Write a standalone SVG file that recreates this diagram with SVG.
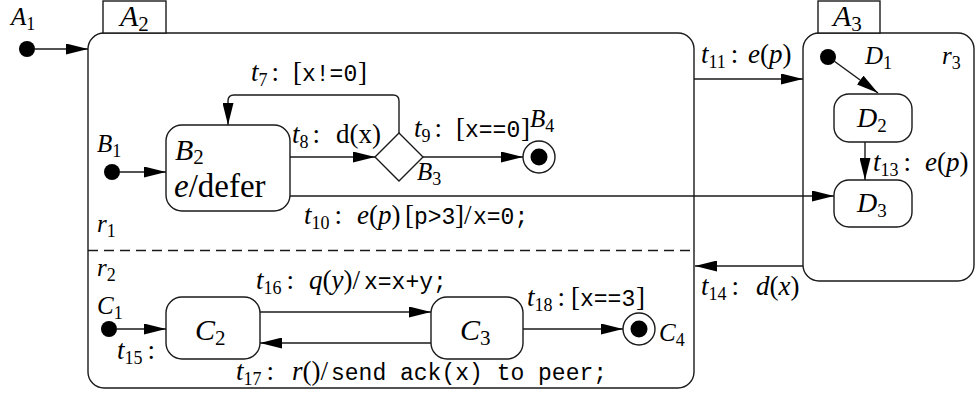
<svg xmlns="http://www.w3.org/2000/svg" width="978" height="399" viewBox="0 0 978 399">
<style>
.box{fill:none;stroke:#1a1a1a;stroke-width:1.4}
.tab{fill:#fff;stroke:#1a1a1a;stroke-width:1.4}
.edge{fill:none;stroke:#1a1a1a;stroke-width:1.4}
.dot{fill:#000}
.lbl{font-family:"Liberation Serif",serif;font-size:27px;fill:#000}
.nl{font-family:"Liberation Serif",serif;font-size:25px;fill:#000}
.big{font-family:"Liberation Serif",serif;font-size:30px;fill:#000}
.it{font-style:italic}
.tt{font-family:"Liberation Mono",monospace;font-size:23px}
.sub{font-size:18px;font-style:normal}
.sbig{font-size:21px;font-style:normal}
</style>
<defs>
<marker id="ah" markerUnits="userSpaceOnUse" markerWidth="22" markerHeight="11" refX="22" refY="5.5" orient="auto">
<path d="M0,0 L22,5.5 L0,11 z" fill="#000"/>
</marker>
</defs>

<g id="A1">
<circle class="dot" cx="27" cy="49" r="8"/>
<text class="nl" x="11" y="25"><tspan class="it">A</tspan><tspan class="sub" dy="5">1</tspan></text>
</g>

<g id="A2">
<rect class="box" x="88" y="33" width="606" height="355" rx="16"/>
<rect class="tab" x="103" y="1" width="63" height="32"/>
<text class="big" x="120" y="26"><tspan class="it">A</tspan><tspan class="sbig" dy="5">2</tspan></text>
<line class="edge" x1="88" y1="250.5" x2="694" y2="250.5" stroke-dasharray="10,6"/>
<text class="nl" x="97" y="232"><tspan class="it">r</tspan><tspan class="sub" dy="5">1</tspan></text>
<text class="nl" x="97" y="276"><tspan class="it">r</tspan><tspan class="sub" dy="5">2</tspan></text>
</g>

<g id="A3">
<rect class="box" x="803" y="33" width="171" height="248" rx="16"/>
<rect class="tab" x="818" y="1" width="62" height="32"/>
<text class="big" x="833" y="26"><tspan class="it">A</tspan><tspan class="sbig" dy="5">3</tspan></text>
<text class="nl" x="942" y="64"><tspan class="it">r</tspan><tspan class="sub" dy="5">3</tspan></text>
</g>

<g id="B1">
<circle class="dot" cx="112" cy="172" r="8"/>
<text class="nl" x="97" y="152"><tspan class="it">B</tspan><tspan class="sub" dy="5">1</tspan></text>
</g>

<g id="B2">
<rect class="box" x="166" y="125" width="124" height="86" rx="16"/>
<text class="big" x="175" y="160"><tspan class="it">B</tspan><tspan class="sbig" dy="4">2</tspan></text>
<text class="big" x="174" y="197" style="font-size:33px"><tspan class="it">e</tspan>/defer</text>
</g>

<g id="B3">
<polygon class="box" points="375,157 399,133 423,157 399,181"/>
<text class="nl" x="417" y="180"><tspan class="it">B</tspan><tspan class="sub" dy="5">3</tspan></text>
</g>

<g id="B4">
<circle class="box" cx="539" cy="157" r="16"/>
<circle class="dot" cx="539" cy="157" r="8.5"/>
<text class="nl" x="530" y="127"><tspan class="it">B</tspan><tspan class="sub" dy="5">4</tspan></text>
</g>

<g id="C1">
<circle class="dot" cx="109" cy="329" r="8"/>
<text class="nl" x="97" y="314"><tspan class="it">C</tspan><tspan class="sub" dy="5">1</tspan></text>
</g>

<g id="C2">
<rect class="box" x="166" y="297" width="94" height="62" rx="16"/>
<text class="big" x="195" y="340"><tspan class="it">C</tspan><tspan class="sbig" dy="5">2</tspan></text>
</g>

<g id="C3">
<rect class="box" x="431" y="297" width="92" height="62" rx="16"/>
<text class="big" x="460" y="340"><tspan class="it">C</tspan><tspan class="sbig" dy="5">3</tspan></text>
</g>

<g id="C4">
<circle class="box" cx="639" cy="329" r="16"/>
<circle class="dot" cx="639" cy="329" r="8.5"/>
<text class="nl" x="659" y="341"><tspan class="it">C</tspan><tspan class="sub" dy="5">4</tspan></text>
</g>

<g id="D1">
<circle class="dot" cx="828" cy="57" r="8"/>
<text class="nl" x="865" y="64"><tspan class="it">D</tspan><tspan class="sub" dy="5">1</tspan></text>
</g>

<g id="D2">
<rect class="box" x="834" y="94" width="78" height="48" rx="15"/>
<text class="big" x="857" y="127" style="font-size:28px"><tspan class="it">D</tspan><tspan class="sbig" dy="5" style="font-size:19px">2</tspan></text>
</g>

<g id="D3">
<rect class="box" x="834" y="180" width="78" height="47" rx="15"/>
<text class="big" x="857" y="212" style="font-size:28px"><tspan class="it">D</tspan><tspan class="sbig" dy="5" style="font-size:19px">3</tspan></text>
</g>

<g id="connectors">
<line class="edge" x1="35" y1="49" x2="88" y2="49" marker-end="url(#ah)"/>
<line class="edge" x1="120" y1="172" x2="166" y2="172" marker-end="url(#ah)"/>
<path class="edge" d="M399,133 L399,101 Q399,95 393,95 L234,95 Q228,95 228,101 L228,125" marker-end="url(#ah)"/>
<line class="edge" x1="290" y1="157" x2="375" y2="157" marker-end="url(#ah)"/>
<line class="edge" x1="423" y1="157" x2="523" y2="157" marker-end="url(#ah)"/>
<line class="edge" x1="290" y1="196" x2="834" y2="196" marker-end="url(#ah)"/>
<line class="edge" x1="694" y1="79" x2="803" y2="79" marker-end="url(#ah)"/>
<line class="edge" x1="834" y1="61" x2="878" y2="93" marker-end="url(#ah)"/>
<line class="edge" x1="865" y1="142" x2="865" y2="180" marker-end="url(#ah)"/>
<line class="edge" x1="803" y1="266" x2="695" y2="266" marker-end="url(#ah)"/>
<line class="edge" x1="117" y1="329" x2="166" y2="329" marker-end="url(#ah)"/>
<line class="edge" x1="260" y1="312" x2="431" y2="312" marker-end="url(#ah)"/>
<line class="edge" x1="431" y1="343" x2="260" y2="343" marker-end="url(#ah)"/>
<line class="edge" x1="523" y1="329" x2="623" y2="329" marker-end="url(#ah)"/>

<text class="lbl" x="251" y="81"><tspan class="it">t</tspan><tspan class="sub" dy="5">7</tspan><tspan dy="-5" dx="4">:</tspan><tspan x="293">[</tspan><tspan class="tt" x="302">x!=0</tspan><tspan x="358">]</tspan></text>
<text class="lbl" x="292" y="143"><tspan class="it">t</tspan><tspan class="sub" dy="5">8</tspan><tspan dy="-5" dx="4">:</tspan><tspan x="336">d(x)</tspan></text>
<text class="lbl" x="414" y="137"><tspan class="it">t</tspan><tspan class="sub" dy="5">9</tspan><tspan dy="-5" dx="4">:</tspan><tspan x="456">[</tspan><tspan class="tt" x="465">x==0</tspan><tspan x="521">]</tspan></text>
<text class="lbl" x="304" y="224"><tspan class="it">t</tspan><tspan class="sub" dy="5">10</tspan><tspan dy="-5" dx="5">:</tspan><tspan class="it" x="357">e</tspan>(<tspan class="it">p</tspan>)<tspan x="405">[</tspan><tspan class="tt" x="414">p&gt;3</tspan><tspan x="455">]/</tspan><tspan class="tt" x="473">x=0;</tspan></text>
<text class="lbl" x="701" y="63"><tspan class="it">t</tspan><tspan class="sub" dy="5">11</tspan><tspan dy="-5" dx="5">:</tspan><tspan class="it" x="748">e</tspan>(<tspan class="it">p</tspan>)</text>
<text class="lbl" x="873" y="171"><tspan class="it">t</tspan><tspan class="sub" dy="5">13</tspan><tspan dy="-5" dx="5">:</tspan><tspan class="it" x="925">e</tspan>(<tspan class="it">p</tspan>)</text>
<text class="lbl" x="701" y="295"><tspan class="it">t</tspan><tspan class="sub" dy="5">14</tspan><tspan dy="-5" dx="5">:</tspan><tspan class="it" x="756">d</tspan>(<tspan class="it">x</tspan>)</text>
<text class="lbl" x="117" y="359"><tspan class="it">t</tspan><tspan class="sub" dy="5">15</tspan><tspan dy="-5" dx="5">:</tspan></text>
<text class="lbl" x="256" y="289"><tspan class="it">t</tspan><tspan class="sub" dy="5">16</tspan><tspan dy="-5" dx="5">:</tspan><tspan class="it" x="309">q</tspan>(<tspan class="it">y</tspan>)/<tspan class="tt" x="364">x=x+y;</tspan></text>
<text class="lbl" x="236" y="380"><tspan class="it">t</tspan><tspan class="sub" dy="5">17</tspan><tspan dy="-5" dx="5">:</tspan><tspan class="it" x="292">r</tspan>()/<tspan class="tt" x="331">send ack(x) to peer;</tspan></text>
<text class="lbl" x="527" y="306"><tspan class="it">t</tspan><tspan class="sub" dy="5">18</tspan><tspan dy="-5" dx="5">:</tspan><tspan x="571">[</tspan><tspan class="tt" x="580">x==3</tspan><tspan x="636">]</tspan></text>
</g>
</svg>
